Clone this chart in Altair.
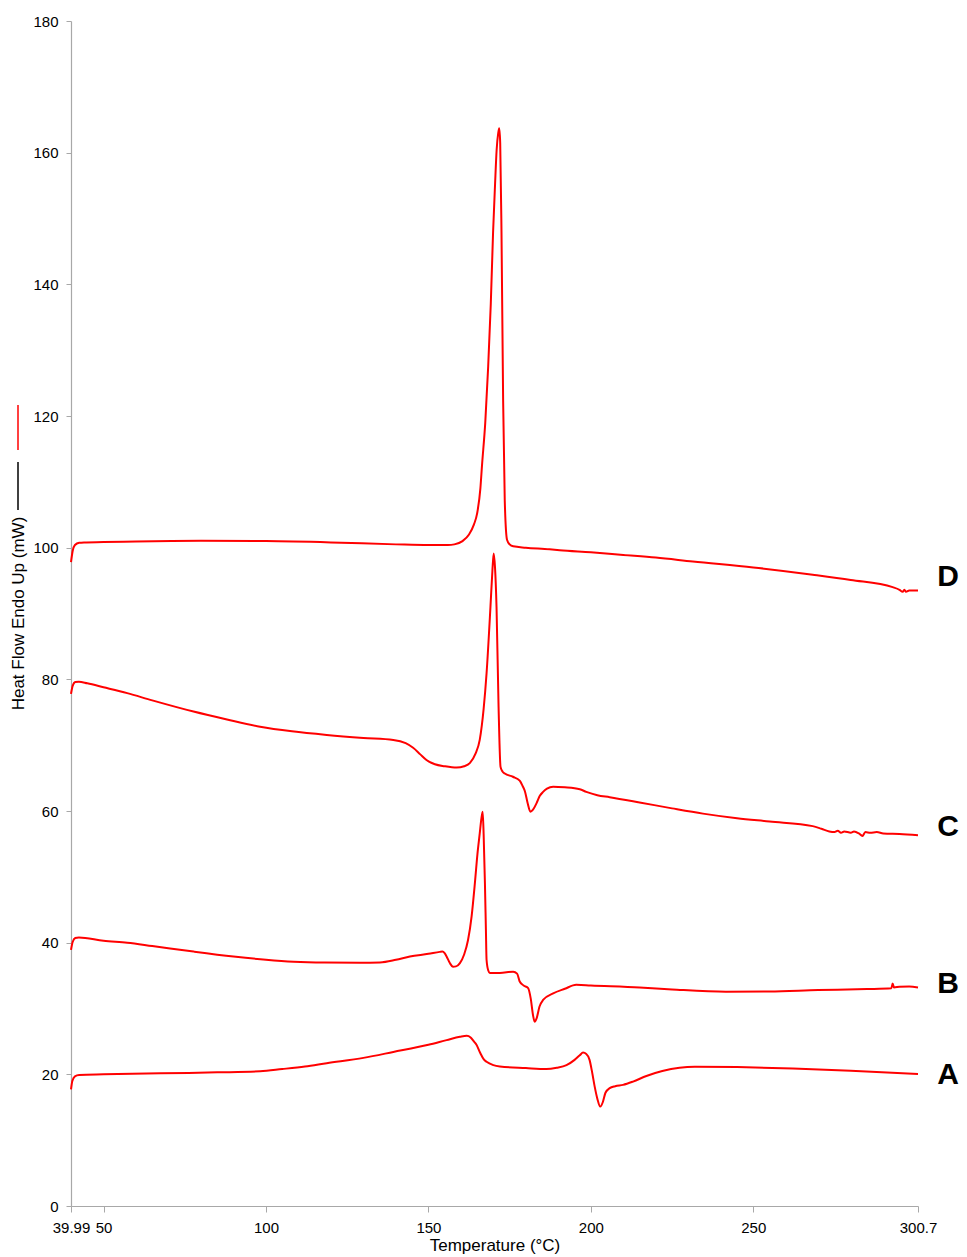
import altair as alt
import pandas as pd

# ---- data (Temperature °C, Heat Flow mW) ----
d_temp = [39.99, 40.5, 41.2, 42.5, 44, 50, 60, 80, 100, 120, 140, 150, 156, 158, 160.5, 162.5, 164, 165,
          166, 166.5, 167.5, 168.4, 169.2, 169.9, 170.5, 171.0, 171.5, 171.8, 172.1, 172.5, 173.0, 173.5,
          174.2, 175.0, 176.1, 180, 187.3, 190.4, 200, 210, 220, 231.4, 250, 268.3, 280, 292.9, 295, 296,
          296.5, 297, 298, 300.7]
d_flow = [97.8, 99.5, 100.4, 100.75, 100.8, 100.85, 100.95, 101.05, 101.0, 100.8, 100.5, 100.4, 100.4, 100.5,
          101.0, 102.0, 103.5, 105.2, 109.0, 112.5, 119.0, 127.5, 137.0, 147.8, 155.0, 160.4, 163.0, 163.7,
          161.5, 147.8, 122.4, 107.2, 101.2, 100.5, 100.2, 100.0, 99.75, 99.6, 99.3, 98.9, 98.5, 97.9, 97.0,
          95.9, 95.1, 94.0, 93.6, 93.3, 93.6, 93.3, 93.5, 93.5]

c_temp = [39.99, 40.5, 41.3, 42.4, 45, 50, 57.3, 65, 77.7, 88, 98.2, 108, 118.7, 130, 139.2, 143, 145.3, 147.5,
          149.4, 152, 155, 158.7, 161, 162.8, 164.5, 165.8, 167, 167.9, 169.1, 169.7, 170.1, 170.5, 170.97,
          171.6, 172.2, 172.8, 173.5, 176, 178.1, 179.0, 179.7, 180.5, 181.4, 182.2, 183.3, 184.3, 185.3, 186.5,
          188.4, 192, 196.6, 198.6, 202, 205.8, 215, 225, 234.5, 245, 255, 268.3, 271, 273.4, 275, 276, 277, 278,
          280, 281, 282.5, 283.6, 284.5, 286, 288, 290, 295, 300.7]
c_flow = [77.8, 79.0, 79.6, 79.65, 79.4, 78.8, 77.9, 76.8, 75.1, 73.9, 72.8, 72.1, 71.55, 71.1, 70.8, 70.3, 69.6,
          68.6, 67.75, 67.1, 66.8, 66.6, 66.8, 67.3, 68.7, 70.8, 75.5, 80.9, 91.0, 96.5, 99.1, 97.0, 91.0, 75.8,
          66.7, 66.0, 65.7, 65.2, 64.6, 63.8, 63.0, 61.3, 59.9, 60.2, 61.2, 62.3, 62.9, 63.4, 63.7, 63.6, 63.3,
          62.9, 62.4, 62.1, 61.3, 60.4, 59.6, 58.9, 58.4, 57.7, 57.3, 56.9, 56.8, 57.0, 56.7, 56.9, 56.7, 56.9,
          56.6, 56.2, 56.8, 56.7, 56.8, 56.6, 56.5, 56.3]

b_temp = [39.99, 40.5, 41.3, 42.4, 50, 57.3, 65, 77.7, 90, 100, 108.5, 118, 128.9, 135.1, 140, 144.3, 150, 153.5,
          154.3, 155.0, 155.6, 156.6, 157.6, 158.5, 159.7, 161, 162.2, 163.3, 164.3, 165.1, 165.8, 166.3, 166.7,
          167.0, 167.4, 167.7, 167.9, 168.4, 168.9, 172, 176.1, 177.3, 178.1, 179.3, 180.7, 181.5, 182.2, 182.7,
          183.3, 184.2, 185.3, 188.4, 192, 195.5, 200, 215, 225, 241.6, 255, 270, 285, 292.5, 292.9, 293.3, 295,
          298, 300.7]
b_flow = [38.9, 40.1, 40.7, 40.8, 40.3, 40.0, 39.5, 38.65, 37.9, 37.4, 37.1, 36.98, 36.96, 37.0, 37.4, 37.9, 38.3,
          38.6, 38.65, 38.4, 37.9, 36.9, 36.35, 36.4, 36.9, 38.2, 40.4, 44.0, 49.0, 53.5, 56.6, 58.8, 59.9, 56.5,
          49.0, 42.0, 37.4, 35.8, 35.4, 35.4, 35.6, 35.3, 34.1, 33.5, 33.1, 31.5, 29.0, 28.0, 28.5, 30.3, 31.3,
          32.3, 33.0, 33.6, 33.5, 33.2, 32.9, 32.55, 32.6, 32.8, 32.95, 33.07, 33.8, 33.2, 33.3, 33.35, 33.2]

a_temp = [39.99, 40.4, 41.2, 42.5, 50, 67.5, 85, 98.2, 105, 112, 118.7, 130, 139.2, 150, 155.6, 159.7, 161.8,
          163.0, 164.0, 164.8, 166, 167.0, 167.9, 170, 172.0, 180, 186.3, 189.5, 192.5, 195, 196.6, 197.6, 198.6,
          199.6, 200.4, 201.2, 202.0, 202.9, 203.7, 204.5, 205.8, 207.5, 209.9, 213, 217.1, 222, 227.3, 232, 245,
          262.2, 280, 300.7]
a_flow = [17.7, 19.0, 19.7, 19.9, 20.0, 20.15, 20.3, 20.45, 20.8, 21.2, 21.7, 22.5, 23.4, 24.5, 25.2, 25.7, 25.85,
          25.6, 25.0, 24.5, 23.2, 22.3, 21.9, 21.4, 21.2, 20.95, 20.8, 21.0, 21.4, 22.2, 22.9, 23.3, 23.1, 22.2,
          20.3, 18.1, 16.3, 15.1, 15.8, 17.2, 17.9, 18.2, 18.4, 18.9, 19.75, 20.5, 21.0, 21.15, 21.1, 20.9, 20.55,
          20.05]

curve_names = ["A", "B", "C", "D"]
label_levels = [19.9, 33.7, 57.6, 95.5]

x_ticks = [39.99, 50, 100, 150, 200, 250, 300.7]
y_ticks = [0, 20, 40, 60, 80, 100, 120, 140, 160, 180]

# ---- build tables ----
frames = []
for name, t, f in [("A", a_temp, a_flow), ("B", b_temp, b_flow), ("C", c_temp, c_flow), ("D", d_temp, d_flow)]:
    frames.append(pd.DataFrame({"curve": name, "temp": t, "flow": f}))
df = pd.concat(frames, ignore_index=True)
labels_df = pd.DataFrame({"curve": curve_names, "level": label_levels})

FONT = "Liberation Sans"
AXIS_GRAY = "#a8a8a8"

x_scale = alt.Scale(domain=[39.99, 300.7], nice=False, zero=False)
y_scale = alt.Scale(domain=[0, 180], nice=False)

lines = alt.Chart(df).mark_line(color="#ff0000", strokeWidth=2, interpolate="monotone").encode(
    x=alt.X("temp:Q", scale=x_scale,
            axis=alt.Axis(title="Temperature (°C)", values=x_ticks, labelExpr="'' + datum.value",
                          labelOverlap=False, labelFlush=False, grid=False, tickSize=6, labelPadding=8,
                          titleY=39, titleBaseline="middle")),
    y=alt.Y("flow:Q", scale=y_scale,
            axis=alt.Axis(title="Heat Flow Endo Up (mW)", values=y_ticks, grid=False, tickSize=5,
                          labelPadding=8, labelFlush=False, labelOverlap=False,
                          titleX=-53, titleY=592, titleAngle=270, titleBaseline="middle",
                          titleAlign="center")),
    detail="curve:N",
    order="temp:Q",
)

labels = alt.Chart(labels_df).mark_text(
    font=FONT, fontSize=30, fontWeight="bold", color="black", align="center", baseline="middle"
).encode(
    x=alt.value(877),
    y=alt.Y("level:Q", scale=y_scale),
    text="curve:N",
)

# legend-like swatches beside the y title
red_swatch = alt.Chart(pd.DataFrame({"k": [0]})).mark_rule(color="#ff0000", strokeWidth=1.5).encode(
    x=alt.value(-53), y=alt.value(384), y2=alt.value(429))
black_swatch = alt.Chart(pd.DataFrame({"k": [0]})).mark_rule(color="black", strokeWidth=1.5).encode(
    x=alt.value(-53), y=alt.value(441), y2=alt.value(489))

chart = alt.layer(lines, labels, red_swatch, black_swatch).properties(
    width=847, height=1185,
    autosize=alt.AutoSizeParams(type="none"),
    padding={"left": 63, "top": 13, "right": 41, "bottom": 49},
).configure_view(stroke=None).configure_axis(
    domainColor=AXIS_GRAY, tickColor=AXIS_GRAY, domainWidth=1.2, tickWidth=1,
    labelFont=FONT, titleFont=FONT, labelFontSize=15, titleFontSize=17,
    labelColor="black", titleColor="black", titleFontWeight="normal",
)

chart.save("out.html", embed_options={"renderer": "svg", "actions": False})
